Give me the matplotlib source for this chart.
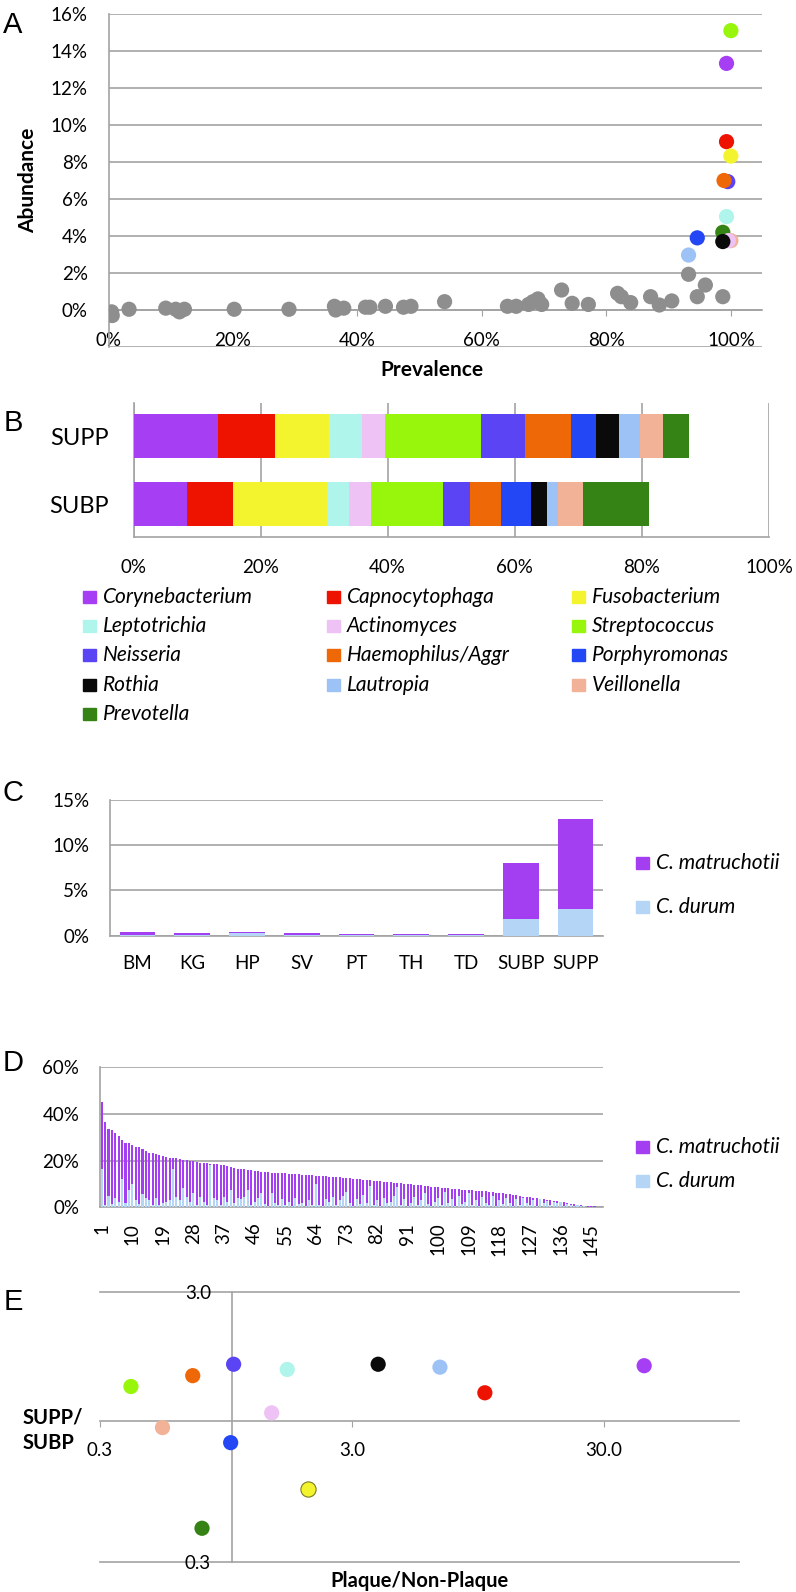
import matplotlib
matplotlib.use('Agg')

import numpy as np
import matplotlib.pyplot as plt
from matplotlib.patches import Rectangle
from matplotlib.ticker import NullLocator

plt.rcParams['font.family'] = ['Lato', 'DejaVu Sans']

# --- data ---
genera = ['Corynebacterium', 'Capnocytophaga', 'Fusobacterium', 'Leptotrichia',
          'Actinomyces', 'Streptococcus', 'Neisseria', 'Haemophilus/Aggr',
          'Porphyromonas', 'Rothia', 'Lautropia', 'Veillonella', 'Prevotella']
genus_colors = ['#A63FF3', '#EE1200', '#F4F42E', '#AFF5EC', '#EEC2F4', '#97F60C',
                '#5A44F4', '#EE6808', '#2347F4', '#0A0A0A', '#9DC2F6', '#F1B298', '#358315']

# panel A: prevalence / abundance
prev_gray = [0.005, 0.006, 0.033, 0.092, 0.108, 0.114, 0.122, 0.202, 0.29, 0.363,
             0.365, 0.378, 0.413, 0.42, 0.445, 0.474, 0.486, 0.54, 0.641, 0.655,
             0.675, 0.682, 0.69, 0.696, 0.728, 0.745, 0.771, 0.818, 0.824, 0.839,
             0.871, 0.885, 0.905, 0.932, 0.946, 0.959, 0.987]
abund_gray = [-0.001, -0.003, 0.0004, 0.001, 0.0004, -0.001, 0.0004, 0.0004, 0.0004, 0.002,
              0.0, 0.001, 0.0015, 0.0015, 0.002, 0.0015, 0.002, 0.0045, 0.002, 0.002,
              0.003, 0.0045, 0.006, 0.003, 0.0108, 0.0036, 0.003, 0.009, 0.0072, 0.004,
              0.0072, 0.0027, 0.0049, 0.0193, 0.0072, 0.0135, 0.0072]
prev_genus = [0.993, 0.993, 1.0, 0.993, 0.996, 1.0, 0.995, 0.989, 0.946, 0.987, 0.932, 1.0, 0.987]
abund_genus = [0.1333, 0.091, 0.0832, 0.0505, 0.0375, 0.151, 0.0694, 0.070, 0.039, 0.037,
               0.0297, 0.0375, 0.042]

# panel B: composition (% of reads)
supp_pct = [13.3, 9.0, 8.4, 5.2, 3.6, 15.2, 6.9, 7.3, 3.8, 3.75, 3.2, 3.6, 4.1]
subp_pct = [8.4, 7.2, 14.9, 3.4, 3.5, 11.3, 4.2, 5.0, 4.7, 2.4, 1.8, 4.0, 10.3]

# panel C: Corynebacterium species by site (%)
sites = ['BM', 'KG', 'HP', 'SV', 'PT', 'TH', 'TD', 'SUBP', 'SUPP']
site_durum = [0.10, 0.05, 0.25, 0.10, 0.05, 0.05, 0.10, 1.8, 3.0]
site_total = [0.37, 0.30, 0.40, 0.26, 0.22, 0.22, 0.18, 8.07, 12.86]

# panel D: per-sample Corynebacterium (%), sorted by total
sample_total = [44.9, 36.3, 33.7, 32.9, 31.7, 30.3, 28.6, 27.7, 27.4, 26.6,
                26.0, 25.7, 24.9, 24.0, 23.4, 23.1, 22.9, 22.3, 22.0, 21.4,
                21.1, 21.0, 20.9, 20.6, 20.3, 20.1, 20.0, 19.7, 19.4, 19.1,
                18.9, 18.9, 18.6, 18.6, 18.4, 18.3, 18.0, 17.7, 17.3, 17.0,
                16.6, 16.4, 16.2, 16.0, 15.9, 15.7, 15.5, 15.3, 15.2, 15.0,
                14.9, 14.8, 14.7, 14.6, 14.5, 14.4, 14.3, 14.2, 14.1, 14.0,
                13.9, 13.8, 13.7, 13.6, 13.5, 13.4, 13.3, 13.2, 13.0, 12.9,
                12.8, 12.7, 12.6, 12.4, 12.3, 12.1, 12.0, 11.8, 11.7, 11.6,
                11.4, 11.3, 11.1, 11.0, 10.9, 10.7, 10.6, 10.4, 10.3, 10.1,
                10.0, 9.8, 9.7, 9.5, 9.4, 9.2, 9.1, 8.9, 8.8, 8.6,
                8.5, 8.3, 8.2, 8.0, 7.9, 7.7, 7.6, 7.5, 7.4, 7.3,
                7.2, 7.0, 6.9, 6.8, 6.6, 6.5, 6.3, 6.2, 6.0, 5.8,
                5.6, 5.4, 5.2, 4.9, 4.6, 4.5, 4.4, 4.2, 4.0, 3.8,
                3.5, 3.3, 3.0, 2.8, 2.6, 2.4, 2.2, 1.9, 1.6, 1.4,
                1.2, 1.0, 0.8, 0.6, 0.5, 0.4, 0.3, 0.2]
sample_durum = [16.4, 1.0, 4.9, 1.4, 3.9, 2.4, 12.0, 1.7, 7.4, 10.0,
                3.1, 1.4, 5.7, 3.9, 3.1, 1.0, 3.9, 1.0, 1.7, 2.4,
                3.1, 16.4, 4.6, 3.1, 8.1, 4.6, 2.4, 6.0, 1.0, 4.3,
                2.4, 1.0, 18.0, 3.9, 3.1, 1.0, 4.6, 2.4, 7.4, 1.7,
                3.9, 3.4, 4.6, 7.4, 1.0, 2.4, 3.9, 6.0, 1.5, 0.8,
                6.0, 2.0, 1.2, 3.5, 1.0, 2.5, 0.8, 4.0, 1.5, 2.0,
                0.6, 3.0, 1.0, 9.9, 1.2, 0.5, 3.8, 2.2, 4.5, 1.0,
                3.0, 5.0, 6.5, 2.0, 0.8, 3.5, 1.5, 5.5, 2.0, 9.3,
                1.0, 3.0, 0.7, 4.2, 1.8, 2.5, 5.0, 8.9, 1.2, 3.5,
                0.8, 2.0, 4.5, 1.0, 3.0, 6.0, 1.5, 0.5, 2.5, 4.0,
                1.0, 6.5, 2.0, 3.5, 0.8, 5.0, 1.5, 2.5, 6.0, 1.0,
                3.0, 0.7, 4.5, 2.0, 1.2, 5.0, 0.8, 3.0, 1.5, 4.0,
                2.0, 0.6, 3.5, 1.0, 4.0, 2.0, 1.2, 3.0, 0.8, 3.5,
                2.0, 2.8, 1.0, 2.5, 1.8, 2.2, 0.8, 1.5, 1.2, 0.5,
                1.0, 0.6, 0.5, 0.3, 0.3, 0.2, 0.2, 0.1]

# panel E: fold ratios
plaque_ratio = [43.3, 10.1, 2.0, 1.66, 1.44, 0.398, 1.017, 0.70, 0.99, 3.81, 6.7, 0.531, 0.762]
supp_subp_ratio = [1.60, 1.27, 0.557, 1.55, 1.07, 1.34, 1.62, 1.47, 0.83, 1.62, 1.58, 0.944, 0.40]

purple = '#A33FF0'
light_blue = '#B4D5F5'
grid_col = '#A3A3A3'
gray_dot = '#8E8E8E'

W, H = 796, 1592
fig = plt.figure(figsize=(W / 100, H / 100), dpi=100)


def add_ax(x0, y0, x1, y1):
    return fig.add_axes([x0 / W, 1 - y1 / H, (x1 - x0) / W, (y1 - y0) / H])


def pct_labels(vals):
    return ['%d%%' % round(v * 100) for v in vals]


def legend_entry(x, y, color, label, size=15):
    fig.add_artist(Rectangle((x / W, 1 - (y + 6) / H), 13 / W, 12 / H,
                             transform=fig.transFigure, color=color))
    fig.text((x + 20) / W, 1 - y / H, label, style='italic', fontsize=size,
             va='center', ha='left')


def style_spines(ax, keep=('left', 'bottom')):
    for side, sp in ax.spines.items():
        sp.set_visible(side in keep)
        sp.set_color(grid_col)
        sp.set_linewidth(1.2)


# --- A ---
axA = add_ax(108.5, 14, 762, 347)
axA.set_xlim(0, 1.05)
axA.set_ylim(-0.02, 0.16)
yt = np.arange(-0.02, 0.161, 0.02)
axA.set_yticks(yt)
axA.set_yticklabels([''] + pct_labels(yt[1:]))
axA.set_xticks(np.arange(0, 1.01, 0.2))
axA.set_xticklabels(pct_labels(np.arange(0, 1.01, 0.2)))
axA.grid(axis='y', color=grid_col, lw=1.2)
axA.set_axisbelow(True)
style_spines(axA)
axA.spines['bottom'].set_position(('data', 0))
axA.tick_params(axis='y', length=0, pad=15, labelsize=13.5)
axA.tick_params(axis='x', length=4, color=grid_col, pad=12, labelsize=13.5)
axA.scatter(prev_gray, abund_gray, s=120, color=gray_dot, edgecolors='none', zorder=3)
draw_order = [5, 0, 1, 2, 6, 7, 3, 12, 8, 11, 4, 9, 10]
for i in draw_order:
    axA.scatter(prev_genus[i], abund_genus[i], s=120, color=genus_colors[i],
                edgecolors='none', zorder=4, clip_on=False)
fig.text(28 / W, 1 - 180 / H, 'Abundance', rotation=90, fontsize=15, fontweight='bold',
         ha='center', va='center')
fig.text(432 / W, 1 - 370 / H, 'Prevalence', fontsize=15, fontweight='bold',
         ha='center', va='center')

# --- B ---
axB = add_ax(133.5, 402.7, 769, 537)
axB.set_xlim(0, 1)
axB.set_ylim(-0.485, 1.49)
left_supp, left_subp = 0.0, 0.0
for i, g in enumerate(genera):
    axB.barh([1, 0], [supp_pct[i] / 100, subp_pct[i] / 100], left=[left_supp, left_subp],
             height=0.65, color=genus_colors[i], zorder=3)
    left_supp += supp_pct[i] / 100
    left_subp += subp_pct[i] / 100
xt = np.arange(0, 1.01, 0.2)
axB.set_xticks(xt)
axB.set_xticklabels(pct_labels(xt))
axB.set_yticks([1, 0])
axB.set_yticklabels(['SUPP', 'SUBP'], fontsize=17)
axB.grid(axis='x', color=grid_col, lw=1.2)
axB.set_axisbelow(True)
style_spines(axB)
axB.tick_params(axis='x', length=0, pad=16, labelsize=13.5)
axB.tick_params(axis='y', length=0, pad=18)

col_x = [83, 327, 572]
row_y = [597, 626, 655, 685, 714]
for i, g in enumerate(genera):
    legend_entry(col_x[i % 3], row_y[i // 3], genus_colors[i], g)

# --- C ---
axC = add_ax(110, 800, 603, 935.7)
xc = np.arange(len(sites))
site_matr = [t - d for t, d in zip(site_total, site_durum)]
axC.bar(xc, np.array(site_durum) / 100, width=0.65, color=light_blue, zorder=3)
axC.bar(xc, np.array(site_matr) / 100, bottom=np.array(site_durum) / 100, width=0.65,
        color=purple, zorder=3)
axC.set_xlim(-0.5, len(sites) - 0.5)
axC.set_ylim(0, 0.15)
yt = [0, 0.05, 0.10, 0.15]
axC.set_yticks(yt)
axC.set_yticklabels(pct_labels(yt))
axC.set_xticks(xc)
axC.set_xticklabels(sites)
axC.grid(axis='y', color=grid_col, lw=1.2)
axC.set_axisbelow(True)
style_spines(axC)
axC.tick_params(axis='both', length=0, labelsize=13.5)
axC.tick_params(axis='y', pad=15)
axC.tick_params(axis='x', pad=14)
legend_entry(636, 863, purple, 'C. matruchotii')
legend_entry(636, 907, light_blue, 'C. durum')

# --- D ---
axD = add_ax(100, 1067, 603, 1207.4)
xd = np.arange(len(sample_total))
sample_matr = [t - d for t, d in zip(sample_total, sample_durum)]
axD.bar(xd, np.array(sample_durum) / 100, width=0.6, color=light_blue, zorder=3)
axD.bar(xd, np.array(sample_matr) / 100, bottom=np.array(sample_durum) / 100, width=0.6,
        color=purple, zorder=3)
axD.set_xlim(-0.5, len(sample_total) - 0.5)
axD.set_ylim(0, 0.6)
yt = [0, 0.2, 0.4, 0.6]
axD.set_yticks(yt)
axD.set_yticklabels(pct_labels(yt))
axD.set_xticks(xd[::9])
axD.set_xticklabels([str(v + 1) for v in xd[::9]], rotation=90)
axD.grid(axis='y', color=grid_col, lw=1.2)
axD.set_axisbelow(True)
style_spines(axD)
axD.tick_params(axis='both', length=0, labelsize=13.5)
axD.tick_params(axis='y', pad=15)
axD.tick_params(axis='x', pad=11)
legend_entry(636, 1147, purple, 'C. matruchotii')
legend_entry(636, 1181, light_blue, 'C. durum')

# --- E ---
axE = add_ax(100, 1292, 739, 1562)
axE.set_xscale('log')
axE.set_yscale('log')
axE.set_xlim(0.3, 103)
axE.set_ylim(0.3, 3.0)
style_spines(axE)
axE.spines['left'].set_position(('data', 1.0))
axE.spines['bottom'].set_position(('data', 1.0))
axE.axhline(3.0, color=grid_col, lw=1.2, clip_on=False, zorder=1)
axE.axhline(0.3, color=grid_col, lw=1.2, clip_on=False, zorder=1)
axE.set_xticks([0.3, 3.0, 30.0])
axE.set_xticklabels(['0.3', '3.0', '30.0'])
axE.set_yticks([0.3, 3.0])
axE.set_yticklabels(['0.3', '3.0'])
axE.xaxis.set_minor_locator(NullLocator())
axE.yaxis.set_minor_locator(NullLocator())
axE.tick_params(axis='y', length=0, pad=15, labelsize=13.5)
axE.tick_params(axis='x', length=4, color=grid_col, pad=11, labelsize=13.5)
for i in range(len(genera)):
    edge = '#7A7A20' if genera[i] == 'Fusobacterium' else 'none'
    axE.scatter(plaque_ratio[i], supp_subp_ratio[i], s=120, color=genus_colors[i],
                edgecolors=edge, linewidths=0.8, zorder=4, clip_on=False)
fig.text(23 / W, 1 - 1417 / H, 'SUPP/', fontsize=14.5, fontweight='bold', ha='left', va='center')
fig.text(23 / W, 1 - 1443 / H, 'SUBP', fontsize=14.5, fontweight='bold', ha='left', va='center')
fig.text(419 / W, 1 - 1581 / H, 'Plaque/Non-Plaque', fontsize=14.5, fontweight='bold',
         ha='center', va='center')

# panel letters
for letter, ly in zip('ABCDE', [25, 423, 793, 1063, 1302]):
    fig.text(13 / W, 1 - ly / H, letter, fontsize=21, family='Liberation Sans',
             ha='center', va='center')

fig.savefig('out.png', dpi=100)
